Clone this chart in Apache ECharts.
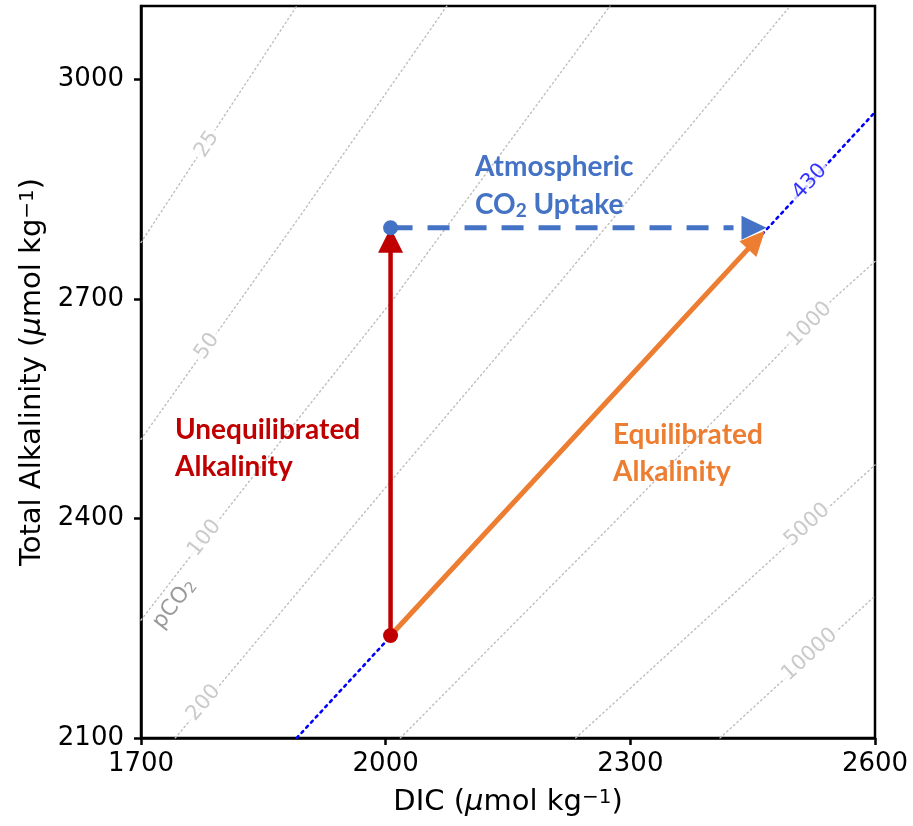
<!DOCTYPE html>
<html><head><meta charset="utf-8">
<script src="https://cdn.jsdelivr.net/npm/echarts@6/dist/echarts.min.js"></script>
<style>html,body{margin:0;padding:0;background:#fff}#c{width:913px;height:826px}</style>
</head><body><div id="c"></div>
<script>
// ---- data ----
const xTicks = [1700, 2000, 2300, 2600];
const yTicks = [2100, 2400, 2700, 3000];

// pCO2 contour lines (DIC, TA)
const c25    = [[1700, 2777], [1891, 3100]];
const c50    = [[1700, 2508], [1895, 2813], [2075, 3100]];
const c100   = [[1700, 2261], [1778, 2373], [1895, 2539], [2009, 2699], [2263, 3082], [2275, 3100]];
const c200   = [[1742, 2100], [2005, 2449], [2217, 2727], [2496, 3100]];
const c430   = [[1891, 2100], [2600, 2955]];
const c1000  = [[2018, 2100], [2263, 2375], [2548, 2699], [2600, 2751]];
const c5000  = [[2233, 2100], [2419, 2289], [2600, 2473]];
const c10000 = [[2410, 2100], [2600, 2294]];

const contourText = ['25', '50', '100', '200', '430', '1000', '5000', '10000'];
const labelDIC    = [1781, 1781, 1778, 1777, 2520, 2520, 2517, 2520];
const labelTA     = [2911, 2635, 2373, 2148, 2860, 2665, 2391, 2214];

// points and arrows
const startPoint = [2006, 2240];
const uptakePoint = [2006, 2797];
const arrowStart = [[2006, 2240], [2006, 2797], [2006, 2240]];
const arrowEnd   = [[2006, 2797], [2467, 2797], [2465, 2793]];
const pco2Label = [1741, 2283];

// ---- chart ----
const contours = [c25, c50, c100, c200, c430, c1000, c5000, c10000];
const GRAY = '#bdbdbd';
const chart = echarts.init(document.getElementById('c'), null, {renderer: 'canvas'});

const arrowStyles = [
  {color: '#C00000', width: 4.5, dash: null, headLen: 25, headW: 25},
  {color: '#4472C4', width: 5, dash: [22, 15], headLen: 25, headW: 24},
  {color: '#ED7D31', width: 5, dash: null, headLen: 25, headW: 23}
];

function labelData(rots) {
  return contourText.map((t, i) => ({
    value: [labelDIC[i], labelTA[i]],
    label: {rotate: rots[i], color: i === 4 ? '#0000ff' : GRAY}
  }));
}

const series = contours.map((c, i) => ({
  type: 'line', data: c, symbol: 'none', silent: true, z: 1,
  lineStyle: i === 4
    ? {color: '#0000ff', width: 2.6, type: [2.4, 4.6], cap: 'round'}
    : {color: GRAY, width: 1.4, type: [1.4, 3.2], cap: 'round'}
}));

series.push({
  id: 'clabels', type: 'scatter', z: 3, silent: true,
  symbolSize: 1, itemStyle: {color: 'rgba(0,0,0,0)'},
  data: labelData(contourText.map(() => 0)),
  label: {show: true, position: 'inside', formatter: p => contourText[p.dataIndex],
          fontFamily: 'DejaVu Sans', fontSize: 21, backgroundColor: '#fff', padding: [0, 3]}
});
series.push({
  id: 'pco2', type: 'scatter', z: 3, silent: true,
  symbolSize: 1, itemStyle: {color: 'rgba(0,0,0,0)'},
  data: [{value: pco2Label, label: {rotate: 0}}],
  label: {show: true, position: 'inside', formatter: '{a|pCO}{s|2}',
          rich: {a: {fontFamily: 'DejaVu Sans', fontSize: 22, color: '#7f7f7f'},
                 s: {fontFamily: 'DejaVu Sans', fontSize: 15, color: '#7f7f7f', verticalAlign: 'bottom', padding: [7, 0, 0, 0]}}}
});
series.push({
  type: 'custom', z: 5, silent: true,
  data: arrowStart.map((s, i) => [s[0], s[1], arrowEnd[i][0], arrowEnd[i][1]]),
  renderItem(params, api) {
    const p1 = api.coord([api.value(0), api.value(1)]);
    const p2 = api.coord([api.value(2), api.value(3)]);
    const st = arrowStyles[params.dataIndex];
    const dx = p2[0] - p1[0], dy = p2[1] - p1[1], L = Math.hypot(dx, dy);
    const ux = dx / L, uy = dy / L;
    const bx = p2[0] - ux * st.headLen, by = p2[1] - uy * st.headLen;
    const endShort = st.dash ? 8 : -2;
    return {type: 'group', children: [
      {type: 'line', shape: {x1: p1[0], y1: p1[1], x2: bx - ux * endShort, y2: by - uy * endShort},
       style: {stroke: st.color, lineWidth: st.width, lineDash: st.dash, fill: null}},
      {type: 'polygon', shape: {points: [[p2[0], p2[1]],
        [bx - uy * st.headW / 2, by + ux * st.headW / 2],
        [bx + uy * st.headW / 2, by - ux * st.headW / 2]]},
       style: {fill: st.color}}
    ]};
  }
});
series.push({
  type: 'scatter', z: 6, silent: true, symbolSize: 15,
  itemStyle: {opacity: 1},
  data: [{value: startPoint, itemStyle: {color: '#C00000', opacity: 1}},
         {value: uptakePoint, itemStyle: {color: '#4472C4', opacity: 1}}]
});

const nameRich = {
  a: {fontFamily: 'DejaVu Sans', fontSize: 29, color: '#000'},
  i: {fontFamily: 'DejaVu Sans', fontSize: 29, fontStyle: 'italic', color: '#000'},
  s: {fontFamily: 'DejaVu Sans', fontSize: 20, color: '#000', verticalAlign: 'top'}
};
const BLUE = '#4472C4';
const FONT = 'bold 28px Lato';

const option = {
  animation: false,
  backgroundColor: '#fff',
  grid: {left: 141, right: 38, top: 6, bottom: 88, show: true, borderColor: '#000', borderWidth: 2.5, backgroundColor: 'transparent'},
  xAxis: {
    type: 'value', min: 1700, max: 2600, interval: 300,
    axisLine: {show: true, lineStyle: {color: '#000', width: 2.5}},
    axisTick: {show: true, length: 7, customValues: xTicks, lineStyle: {color: '#000', width: 2.5}},
    axisLabel: {customValues: xTicks, formatter: v => String(v), fontFamily: 'DejaVu Sans', fontSize: 26, color: '#000', margin: 13},
    splitLine: {show: false},
    name: '{a|DIC (}{i|μ}{a|mol kg}{s|−1}{a|)}',
    nameLocation: 'middle', nameGap: 50,
    nameTextStyle: {rich: nameRich}
  },
  yAxis: {
    type: 'value', min: 2100, max: 3100, interval: 300,
    axisLine: {show: true, lineStyle: {color: '#000', width: 2.5}},
    axisTick: {show: true, length: 7, customValues: yTicks, lineStyle: {color: '#000', width: 2.5}},
    axisLabel: {customValues: yTicks, formatter: v => String(v), fontFamily: 'DejaVu Sans', fontSize: 26, color: '#000', margin: 17},
    splitLine: {show: false},
    name: '{a|Total Alkalinity (}{i|μ}{a|mol kg}{s|−1}{a|)}',
    nameLocation: 'middle', nameGap: 90, nameRotate: 90,
    nameTextStyle: {rich: nameRich}
  },
  graphic: [
    {type: 'text', x: 475, y: 167, z: 10, style: {text: 'Atmospheric', fill: BLUE, font: FONT, verticalAlign: 'middle'}},
    {type: 'text', x: 475, y: 205, z: 10, style: {text: '{a|CO}{s|2}{a| Uptake}', verticalAlign: 'middle', fill: BLUE,
      rich: {a: {fill: BLUE, fontWeight: 'bold', fontSize: 28, fontFamily: 'Lato'},
             s: {fill: BLUE, fontWeight: 'bold', fontSize: 19, fontFamily: 'Lato', verticalAlign: 'bottom', padding: [11, 0, 0, 0]}}}},
    {type: 'text', x: 175, y: 430, z: 10, style: {text: 'Unequilibrated', fill: '#C00000', font: FONT, verticalAlign: 'middle'}},
    {type: 'text', x: 175, y: 467, z: 10, style: {text: 'Alkalinity', fill: '#C00000', font: FONT, verticalAlign: 'middle'}},
    {type: 'text', x: 613, y: 435, z: 10, style: {text: 'Equilibrated', fill: '#ED7D31', font: FONT, verticalAlign: 'middle'}},
    {type: 'text', x: 613, y: 472, z: 10, style: {text: 'Alkalinity', fill: '#ED7D31', font: FONT, verticalAlign: 'middle'}}
  ],
  series
};
chart.setOption(option);

// rotate contour labels along the rendered contour direction
function localAngle(line, x) {
  let k = 0;
  for (let j = 0; j < line.length - 1; j++) { if (x >= line[j][0]) k = j; }
  const pa = chart.convertToPixel({gridIndex: 0}, line[k]);
  const pb = chart.convertToPixel({gridIndex: 0}, line[k + 1]);
  return -Math.atan2(pb[1] - pa[1], pb[0] - pa[0]) * 180 / Math.PI;
}
const rots = contours.map((c, i) => localAngle(c, labelDIC[i]));
chart.setOption({series: [
  {id: 'clabels', data: labelData(rots)},
  {id: 'pco2', data: [{value: pco2Label, label: {rotate: localAngle(c100, pco2Label[0])}}]}
]});
</script></body></html>
